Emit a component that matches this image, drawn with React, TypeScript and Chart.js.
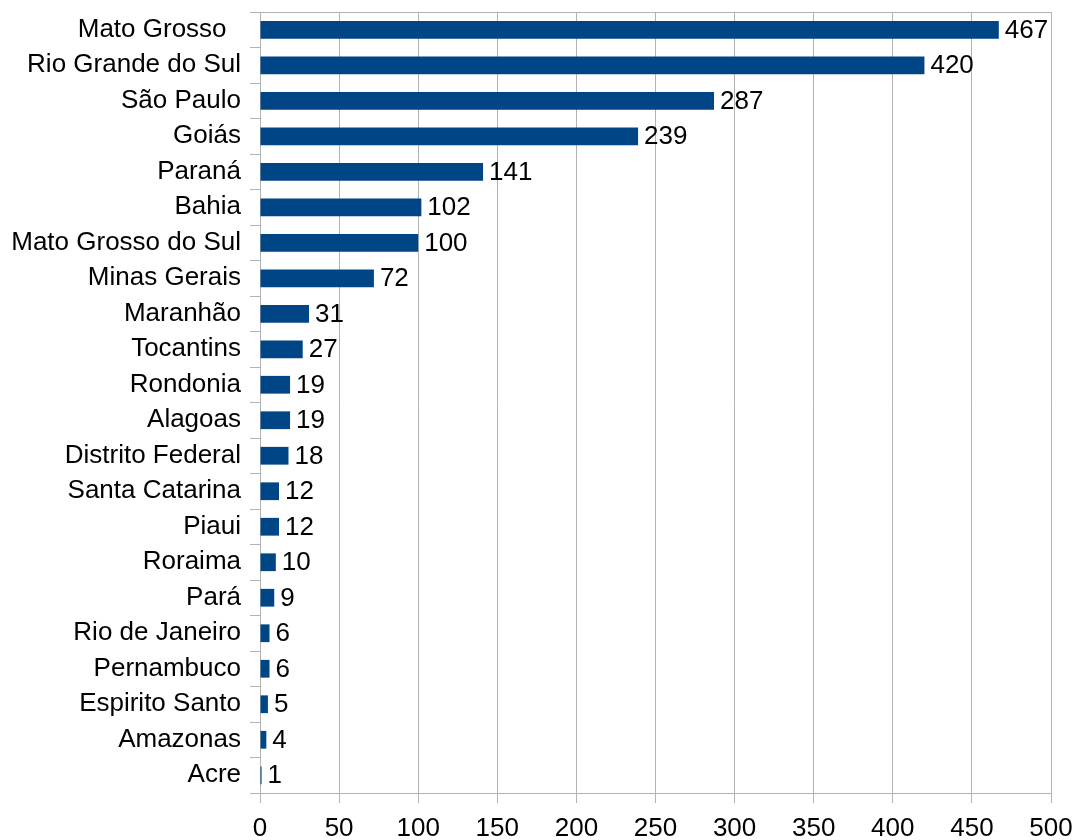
import React, { useEffect, useRef } from "react";
import { Chart, registerables } from "chart.js";

Chart.register(...registerables);

const categories = [
  "Mato Grosso  ",
  "Rio Grande do Sul",
  "São Paulo",
  "Goiás",
  "Paraná",
  "Bahia",
  "Mato Grosso do Sul",
  "Minas Gerais",
  "Maranhão",
  "Tocantins",
  "Rondonia",
  "Alagoas",
  "Distrito Federal",
  "Santa Catarina",
  "Piaui",
  "Roraima",
  "Pará",
  "Rio de Janeiro",
  "Pernambuco",
  "Espirito Santo",
  "Amazonas",
  "Acre",
];

const values = [467, 420, 287, 239, 141, 102, 100, 72, 31, 27, 19, 19, 18, 12, 12, 10, 9, 6, 6, 5, 4, 1];

const FONT_FAMILY = "'Liberation Sans', Arial, sans-serif";
const FONT_SIZE = 26;
const GRID = "#b3b3b3";
const BAR = "#004586";

const valueLabels = {
  id: "valueLabels",
  afterDatasetsDraw(chart: any) {
    const ctx = chart.ctx;
    const meta = chart.getDatasetMeta(0);
    ctx.save();
    ctx.font = `${FONT_SIZE}px ${FONT_FAMILY}`;
    ctx.fillStyle = "#000000";
    ctx.textAlign = "left";
    ctx.textBaseline = "middle";
    meta.data.forEach((el: any, i: number) => {
      const v = chart.data.datasets[0].data[i];
      ctx.fillText(String(v), el.x + 6, el.y + 1);
    });
    ctx.restore();
  },
};

const topBorder = {
  id: "topBorder",
  afterDraw(chart: any) {
    const { ctx, chartArea } = chart;
    ctx.save();
    ctx.strokeStyle = GRID;
    ctx.lineWidth = 1;
    ctx.beginPath();
    ctx.moveTo(chartArea.left - 10, chartArea.top + 0.5);
    ctx.lineTo(chartArea.right, chartArea.top + 0.5);
    ctx.stroke();
    ctx.restore();
  },
};

const zeroPad = (scale: any) => {
  scale.paddingTop = 0;
  scale.paddingBottom = 0;
  scale.paddingLeft = 0;
  scale.paddingRight = 0;
};

export default function App() {
  const ref = useRef<HTMLCanvasElement | null>(null);

  useEffect(() => {
    if (!ref.current) return;
    const chart = new Chart(ref.current, {
      type: "bar",
      data: {
        labels: categories,
        datasets: [
          {
            data: values,
            backgroundColor: BAR,
            borderWidth: 0,
            categoryPercentage: 1,
            barPercentage: 0.5,
          },
        ],
      },
      options: {
        indexAxis: "y",
        animation: false,
        responsive: false,
        devicePixelRatio: 1,
        layout: { padding: { top: 12, right: 25, left: 0, bottom: 0 } },
        plugins: {
          legend: { display: false },
          tooltip: { enabled: false },
        },
        scales: {
          x: {
            type: "linear",
            min: 0,
            max: 500,
            ticks: {
              stepSize: 50,
              color: "#000000",
              padding: 10,
              font: { family: FONT_FAMILY, size: FONT_SIZE },
            },
            grid: { color: GRID, tickColor: GRID, tickLength: 10, lineWidth: 1 },
            border: { color: GRID },
            afterFit: (scale: any) => {
              scale.height = 47;
              zeroPad(scale);
            },
          },
          y: {
            type: "category",
            ticks: {
              color: "#000000",
              padding: 9,
              autoSkip: false,
              font: { family: FONT_FAMILY, size: FONT_SIZE },
            },
            grid: {
              offset: true,
              drawOnChartArea: false,
              color: GRID,
              tickColor: GRID,
              tickLength: 10,
            },
            border: { color: GRID },
            afterFit: (scale: any) => {
              scale.width = 260;
              zeroPad(scale);
            },
          },
        },
      },
      plugins: [valueLabels, topBorder],
    });
    return () => chart.destroy();
  }, []);

  return (
    <div style={{ position: "absolute", left: 0, top: 0, width: 1076, height: 840, background: "#ffffff" }}>
      <canvas ref={ref} width={1076} height={840} style={{ display: "block" }} />
    </div>
  );
}
